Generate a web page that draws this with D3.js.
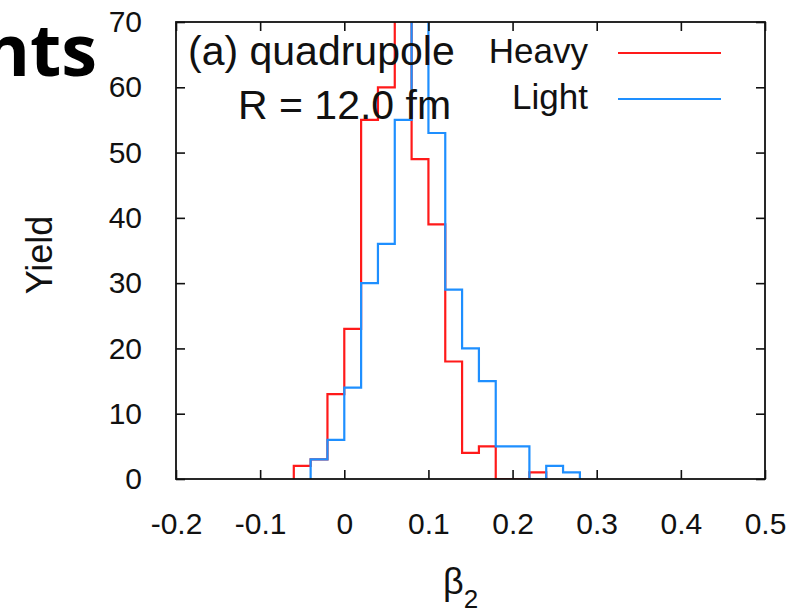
<!DOCTYPE html>
<html>
<head>
<meta charset="utf-8">
<script src="https://cdn.jsdelivr.net/npm/d3@7"></script>
<style>
  html, body { margin: 0; padding: 0; background: #fff; }
  svg { display: block; }
</style>
</head>
<body>
<svg id="chart" width="802" height="615"></svg>
<script>
// ---- data ----
const binWidth = 0.02;
const heavyStart = -0.06;
const heavyValues = [2, 3, 13, 23, 55, 60, 80, 49, 39, 18, 4, 5, 0, 0, 1];
const lightStart = -0.04;
const lightValues = [3, 6, 14, 30, 36, 55, 80, 53, 29, 20, 15, 5, 5, 0, 2, 1];
const seriesNames = ["Heavy", "Light"];
const seriesColors = ["#ff1a1a", "#1e8fff"];
const xTickValues = [-0.2, -0.1, 0, 0.1, 0.2, 0.3, 0.4, 0.5];
const xTickLabels = ["-0.2", "-0.1", "0", "0.1", "0.2", "0.3", "0.4", "0.5"];
const yTickValues = [0, 10, 20, 30, 40, 50, 60, 70];
const yTickLabels = ["0", "10", "20", "30", "40", "50", "60", "70"];
const plotLabels = ["(a) quadrupole", "R = 12.0 fm"];

(function () {
// ---- layout ----
const svg = d3.select("#chart");
const pLeft = 176, pRight = 765, pTop = 22, pBottom = 479;
const x = d3.scaleLinear().domain([-0.2, 0.5]).range([pLeft, pRight]);
const y = d3.scaleLinear().domain([0, 70]).range([pBottom, pTop]);
const font = "'Liberation Sans', Arial, Helvetica, sans-serif";

// slide title fragment
svg.append("text")
  .attr("x", 97).attr("y", 76)
  .attr("text-anchor", "end")
  .attr("font-family", "'Open Sans', Calibri, sans-serif")
  .attr("font-weight", 700)
  .attr("font-size", 72)
  .attr("fill", "#000")
  .text("nts");

svg.append("defs").append("clipPath").attr("id", "clip")
  .append("rect").attr("x", pLeft).attr("y", pTop)
  .attr("width", pRight - pLeft).attr("height", pBottom - pTop);

// histograms as step paths
function stepPoints(start, values) {
  const pts = [[x(start), y(0)]];
  values.forEach((v, i) => {
    const x0 = x(start + i * binWidth), x1 = x(start + (i + 1) * binWidth);
    pts.push([x0, y(v)], [x1, y(v)]);
  });
  pts.push([x(start + values.length * binWidth), y(0)]);
  return pts;
}
const line = d3.line();
const g = svg.append("g").attr("clip-path", "url(#clip)");
[[heavyStart, heavyValues], [lightStart, lightValues]].forEach(([s, vals], i) => {
  g.append("path")
    .attr("d", line(stepPoints(s, vals)))
    .attr("fill", "none")
    .attr("stroke", seriesColors[i])
    .attr("stroke-width", 2.2)
    .attr("stroke-linejoin", "miter");
});

// axes
const tickLen = 9;
const xAxis = d3.axisBottom(x).tickValues(xTickValues)
  .tickFormat((d, i) => xTickLabels[i]).tickSizeInner(-tickLen).tickSizeOuter(0).tickPadding(34);
const yAxis = d3.axisLeft(y).tickValues(yTickValues)
  .tickFormat((d, i) => yTickLabels[i]).tickSizeInner(-tickLen).tickSizeOuter(0).tickPadding(34);
const xTop = d3.axisTop(x).tickValues(xTickValues).tickFormat("").tickSizeInner(-tickLen).tickSizeOuter(0);
const yRight = d3.axisRight(y).tickValues(yTickValues).tickFormat("").tickSizeInner(-tickLen).tickSizeOuter(0);

function styleAxis(sel) {
  sel.select(".domain").remove();
  sel.selectAll(".tick line").attr("stroke", "#111").attr("stroke-width", 1.6);
  sel.selectAll("text").attr("font-family", font).attr("font-size", 30).attr("fill", "#111");
}
svg.append("g").attr("transform", `translate(0,${pBottom})`).call(xAxis).call(styleAxis);
svg.append("g").attr("transform", `translate(${pLeft},0)`).call(yAxis).call(styleAxis);
svg.append("g").attr("transform", `translate(0,${pTop})`).call(xTop).call(styleAxis);
svg.append("g").attr("transform", `translate(${pRight},0)`).call(yRight).call(styleAxis);

// frame
svg.append("rect").attr("x", pLeft).attr("y", pTop)
  .attr("width", pRight - pLeft).attr("height", pBottom - pTop)
  .attr("fill", "none").attr("stroke", "#111").attr("stroke-width", 1.8);

// labels inside plot
svg.append("text").attr("x", 188).attr("y", 65)
  .attr("font-family", font).attr("font-size", 41).attr("fill", "#111")
  .text(plotLabels[0]);
svg.append("text").attr("x", 238).attr("y", 119)
  .attr("font-family", font).attr("font-size", 41).attr("fill", "#111")
  .text(plotLabels[1]);

// legend
seriesNames.forEach((name, i) => {
  const ly = i === 0 ? 53 : 99;
  svg.append("text").attr("x", 588).attr("y", ly + 10)
    .attr("text-anchor", "end")
    .attr("font-family", font).attr("font-size", 35).attr("fill", "#111")
    .text(name);
  svg.append("line").attr("x1", 618).attr("x2", 721).attr("y1", ly).attr("y2", ly)
    .attr("stroke", seriesColors[i]).attr("stroke-width", 2.2);
});

// axis titles
svg.append("text")
  .attr("transform", "translate(52,255) rotate(-90)")
  .attr("text-anchor", "middle")
  .attr("font-family", font).attr("font-size", 36).attr("fill", "#111")
  .text("Yield");

const xt = svg.append("text").attr("x", 443).attr("y", 594)
  .attr("font-family", font).attr("font-size", 36).attr("fill", "#111");
xt.append("tspan").text("β");
xt.append("tspan").attr("dy", 14).attr("font-size", 26).text("2");
})();
</script>
</body>
</html>
